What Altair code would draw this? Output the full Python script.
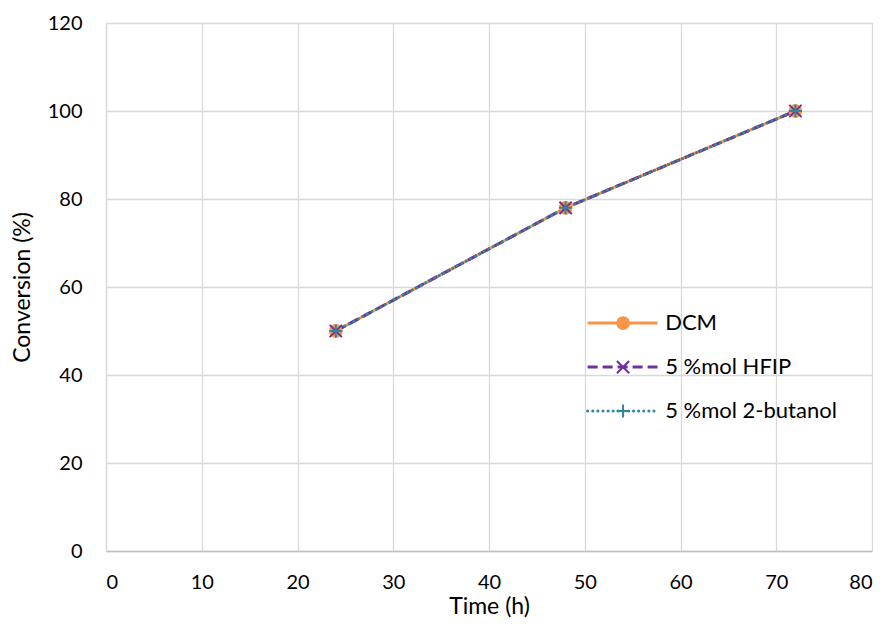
import altair as alt
import pandas as pd

times = [24, 48, 72]
dcm = [50, 78, 100]
hfip = [50, 78, 100]
butanol = [50, 78, 100]
series_names = ["DCM", "5 %mol HFIP", "5 %mol 2-butanol"]
x_ticks = [0, 10, 20, 30, 40, 50, 60, 70, 80]
y_ticks = [0, 20, 40, 60, 80, 100, 120]

colors = {"DCM": "#F79646", "5 %mol HFIP": "#7030A0", "5 %mol 2-butanol": "#31859C"}
FONT = "Lato"
LFS = 20   # tick labels
TFS = 23   # axis titles
GFS = 22   # legend

df = pd.DataFrame({
    "t": times * 3,
    "v": dcm + hfip + butanol,
    "s": [series_names[0]] * 3 + [series_names[1]] * 3 + [series_names[2]] * 3,
})

# legend anchor (in data units of the chart's scales)
leg_y = {"DCM": 51.8, "5 %mol HFIP": 41.8, "5 %mol 2-butanol": 31.8}
leg_x0, leg_x1, leg_xm, leg_xt = 50.3, 57.6, 54.0, 58.4
leg_lines = pd.DataFrame({
    "t": [leg_x0, leg_x1] * 3,
    "v": [leg_y[s] for s in series_names for _ in (0, 1)],
    "s": [s for s in series_names for _ in (0, 1)],
})
leg_pts = pd.DataFrame({"t": [leg_xm] * 3, "v": [leg_y[s] for s in series_names], "s": series_names})
leg_txt = pd.DataFrame({"t": [leg_xt] * 3, "v": [leg_y[s] for s in series_names], "s": series_names})

xs = alt.Scale(domain=[0, 80], nice=False)
ys = alt.Scale(domain=[0, 120], nice=False)

X = alt.X("t:Q", scale=xs, title="Time (h)",
          axis=alt.Axis(values=x_ticks, grid=True, gridColor="#D9D9D9", gridWidth=1.3,
                        domainColor="#BFBFBF", domainWidth=1.3, ticks=False, labelPadding=21,
                        labelFontSize=LFS, titleFontSize=TFS, labelFont=FONT, titleFont=FONT,
                        labelColor="#000000", titleColor="#000000", titleFontWeight="normal",
                        titlePadding=3))
Y = alt.Y("v:Q", scale=ys, title="Conversion (%)",
          axis=alt.Axis(values=y_ticks, grid=True, gridColor="#D9D9D9", gridWidth=1.3,
                        domainColor="#D9D9D9", domainWidth=1.3, ticks=False, labelPadding=24,
                        labelFontSize=LFS, titleFontSize=TFS, labelFont=FONT, titleFont=FONT,
                        labelColor="#000000", titleColor="#000000", titleFontWeight="normal",
                        titlePadding=13))

x_path = "M-1,-1L1,1M-1,1L1,-1"
plus_path = "M-1,0L1,0M0,-1L0,1"

def series_layers(data, name):
    d = data[data.s == name]
    if name == "DCM":
        line = alt.Chart(d).mark_line(color=colors[name], strokeWidth=3)
        pt = alt.Chart(d).mark_circle(color=colors[name], size=190, opacity=1)
    elif name == "5 %mol HFIP":
        line = alt.Chart(d).mark_line(color=colors[name], strokeWidth=3, strokeDash=[10, 5])
        pt = alt.Chart(d).mark_point(shape=x_path, color=colors[name], size=150, filled=False, strokeWidth=2, opacity=1)
    else:
        line = alt.Chart(d).mark_line(color=colors[name], strokeWidth=3, strokeDash=[0.1, 5], strokeCap="round")
        pt = alt.Chart(d).mark_point(shape=plus_path, color=colors[name], size=170, filled=False, strokeWidth=2, opacity=1)
    return line.encode(x=X, y=Y, detail="s:N"), pt.encode(x=X, y=Y)

layers = []
for name in series_names:
    layers.append(series_layers(df, name)[0])
for name in series_names:
    layers.append(series_layers(df, name)[1])
for name in series_names:
    l, _ = series_layers(leg_lines, name)
    layers.append(l)
    _, p = series_layers(leg_pts, name)
    layers.append(p)

text = alt.Chart(leg_txt).mark_text(align="left", baseline="middle", fontSize=GFS, font=FONT, color="#000000").encode(
    x=X, y=Y, text="s:N")
layers.append(text)

chart = alt.layer(*layers).properties(
    width=766, height=528,
    autosize=alt.AutoSizeParams(type="none"),
    padding={"left": 98, "top": 15, "right": 8, "bottom": 67},
).configure_view(stroke=None).configure(background="white")

chart.save("out.html", embed_options={"renderer": "svg", "actions": False})
